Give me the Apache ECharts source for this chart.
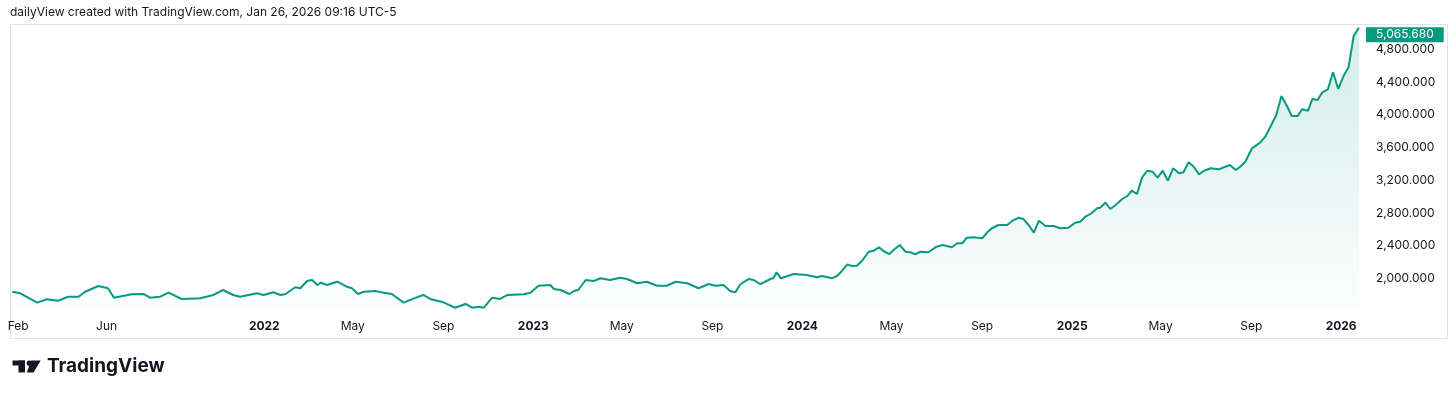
<!DOCTYPE html>
<html>
<head>
<meta charset="utf-8">
<script src="https://cdn.jsdelivr.net/npm/echarts@6/dist/echarts.min.js"></script>
<style>
html,body{margin:0;padding:0;background:#fff;}
#chart{width:1456px;height:398px;}
</style>
</head>
<body>
<div id="chart"></div>
<script>
const dates = [
'2021-01-24','2021-02-04','2021-02-27','2021-03-12','2021-03-27','2021-04-10','2021-04-24','2021-05-03','2021-05-21','2021-06-03','2021-06-11','2021-07-05','2021-07-21','2021-07-30','2021-08-13','2021-08-24','2021-09-11','2021-10-06','2021-10-24','2021-11-06','2021-11-20','2021-11-29','2021-12-22','2021-12-31',
'2022-01-13','2022-01-23','2022-01-30','2022-02-12','2022-02-19','2022-02-28','2022-03-07','2022-03-14','2022-03-19','2022-03-27','2022-04-10','2022-04-23','2022-04-30','2022-05-08','2022-05-16','2022-06-01','2022-06-12','2022-06-23','2022-07-09','2022-07-23','2022-08-05','2022-08-14','2022-09-01','2022-09-17','2022-10-01','2022-10-10','2022-10-19','2022-10-26','2022-11-06','2022-11-17','2022-11-27','2022-12-19','2022-12-28',
'2023-01-08','2023-01-24','2023-01-29','2023-02-07','2023-02-19','2023-02-25','2023-03-03','2023-03-13','2023-03-24','2023-04-02','2023-04-15','2023-04-29','2023-05-08','2023-05-22','2023-06-04','2023-06-18','2023-07-01','2023-07-13','2023-07-29','2023-08-13','2023-08-27','2023-09-05','2023-09-16','2023-09-25','2023-10-02','2023-10-09','2023-10-20','2023-10-27','2023-11-05','2023-11-16','2023-11-23','2023-11-27','2023-12-03','2023-12-20',
'2024-01-07','2024-01-21','2024-01-28','2024-02-10','2024-02-17','2024-02-24','2024-03-02','2024-03-08','2024-03-15','2024-03-22','2024-03-31','2024-04-07','2024-04-14','2024-04-20','2024-04-28','2024-05-05','2024-05-12','2024-05-20','2024-05-27','2024-06-02','2024-06-09','2024-06-20','2024-07-01','2024-07-09','2024-07-22','2024-07-29','2024-08-05','2024-08-11','2024-08-20','2024-09-01','2024-09-08','2024-09-14','2024-09-23','2024-10-05','2024-10-12','2024-10-21','2024-10-27','2024-11-03','2024-11-10','2024-11-17','2024-11-26','2024-12-07','2024-12-16','2024-12-27',
'2025-01-05','2025-01-12','2025-01-19','2025-01-26','2025-02-04','2025-02-08','2025-02-15','2025-02-22','2025-03-01','2025-03-10','2025-03-17','2025-03-23','2025-03-30','2025-04-06','2025-04-13','2025-04-20','2025-04-27','2025-05-04','2025-05-11','2025-05-18','2025-05-26','2025-06-01','2025-06-08','2025-06-15','2025-06-22','2025-06-29','2025-07-08','2025-07-19','2025-07-26','2025-08-03','2025-08-11','2025-08-17','2025-08-24','2025-09-02','2025-09-13','2025-09-20','2025-09-27','2025-10-05','2025-10-12','2025-10-20','2025-10-26','2025-11-03','2025-11-09','2025-11-17','2025-11-23','2025-11-30','2025-12-06','2025-12-14','2025-12-21','2025-12-28',
'2026-01-05','2026-01-11','2026-01-18','2026-01-25'
];

const values = [
1836000,1817000,1702000,1743000,1726000,1775000,1775000,1836000,1906000,1878000,1763000,1804000,1808000,1763000,1775000,1824000,1747000,1755000,1796000,1857000,1796000,1775000,1817000,1796000,
1829000,1796000,1808000,1890000,1878000,1967000,1979000,1918000,1946000,1918000,1958000,1897000,1878000,1808000,1836000,1845000,1824000,1808000,1702000,1755000,1796000,1747000,1706000,1640000,1686000,1640000,1653000,1640000,1763000,1747000,1796000,1804000,1824000,
1909000,1918000,1869000,1857000,1808000,1845000,1857000,1979000,1967000,2000000,1979000,2007000,1991000,1939000,1958000,1909000,1909000,1958000,1939000,1878000,1930000,1909000,1918000,1845000,1829000,1927000,1991000,1979000,1930000,1979000,2007000,2073000,2000000,2053000,
2040000,2012000,2028000,2000000,2028000,2093000,2171000,2150000,2154000,2215000,2325000,2338000,2379000,2334000,2297000,2355000,2407000,2325000,2318000,2294000,2325000,2318000,2387000,2407000,2379000,2428000,2428000,2497000,2502000,2489000,2563000,2612000,2652000,2652000,2705000,2741000,2725000,2652000,2558000,2705000,2640000,2640000,2612000,2619000,
2680000,2692000,2753000,2787000,2856000,2864000,2925000,2848000,2897000,2970000,3007000,3072000,3031000,3235000,3316000,3304000,3231000,3316000,3194000,3346000,3284000,3297000,3419000,3365000,3272000,3316000,3346000,3333000,3358000,3386000,3325000,3365000,3426000,3590000,3659000,3732000,3854000,3997000,4230000,4099000,3985000,3985000,4067000,4050000,4193000,4181000,4270000,4312000,4520000,4316000,
4487000,4581000,4964000,5065680
];

const yTickValues = [2000000,2400000,2800000,3200000,3600000,4000000,4400000,4800000];
const xTickDates = ['2021-02-01','2021-06-01','2022-01-01','2022-05-01','2022-09-01','2023-01-01','2023-05-01','2023-09-01','2024-01-01','2024-05-01','2024-09-01','2025-01-01','2025-05-01','2025-09-01','2026-01-01'];
const xRange = ['2021-01-21', '2026-02-01'];
const monthNames = ['Jan','Feb','Mar','Apr','May','Jun','Jul','Aug','Sep','Oct','Nov','Dec'];

const headerText = 'dailyView created with TradingView.com, Jan 26, 2026 09:16 UTC-5';
const lastValue = values[values.length - 1];

const ts = s => Date.UTC(+s.slice(0, 4), +s.slice(5, 7) - 1, +s.slice(8, 10));

function fmtPrice(v) {
  const s = Math.round(v).toLocaleString('en-US');
  const i = s.lastIndexOf(',');
  return i < 0 ? s : s.slice(0, i) + '.' + s.slice(i + 1);
}

const FONT = 'Inter, "Noto Sans", sans-serif';
const chart = echarts.init(document.getElementById('chart'), null, {renderer: 'canvas'});

chart.setOption({
  animation: false,
  backgroundColor: '#ffffff',
  textStyle: {fontFamily: FONT},
  grid: {left: 10, right: 92, top: 25, bottom: 90, containLabel: false},
  xAxis: {
    type: 'value',
    min: ts(xRange[0]),
    max: ts(xRange[1]),
    axisLine: {show: false},
    axisTick: {show: false},
    splitLine: {show: false},
    axisLabel: {
      customValues: xTickDates.map(ts),
      margin: 12,
      color: '#131722',
      fontSize: 12,
      fontFamily: FONT,
      formatter: function (val) {
        const d = new Date(val);
        if (d.getUTCMonth() === 0) return '{y|' + d.getUTCFullYear() + '}';
        return monthNames[d.getUTCMonth()];
      },
      rich: {y: {fontWeight: 'bold', fontSize: 12, color: '#131722', fontFamily: FONT}}
    }
  },
  yAxis: {
    type: 'value',
    position: 'right',
    min: 1636700,
    max: 5098400,
    axisLine: {show: false},
    axisTick: {show: false},
    splitLine: {show: false},
    axisLabel: {
      customValues: yTickValues,
      margin: 12,
      color: '#131722',
      fontSize: 12,
      fontFamily: FONT,
      formatter: v => fmtPrice(v)
    }
  },
  series: [{
    type: 'line',
    clip: false,
    data: dates.map((d, i) => [ts(d), values[i]]),
    showSymbol: false,
    symbol: 'none',
    lineStyle: {color: '#089981', width: 2},
    itemStyle: {color: '#089981'},
    areaStyle: {
      origin: 'start',
      color: new echarts.graphic.LinearGradient(0, 0, 0, 1, [
        {offset: 0, color: 'rgba(8,153,129,0.26)'},
        {offset: 1, color: 'rgba(8,153,129,0.02)'}
      ])
    },
    markLine: {
      silent: true,
      symbol: ['none', 'none'],
      lineStyle: {color: 'rgba(0,0,0,0)', width: 0, type: 'solid'},
      data: [{yAxis: lastValue}],
      label: {
        show: true,
        position: 'end',
        distance: 2,
        offset: [0, 7],
        formatter: p => fmtPrice(p.value),
        backgroundColor: '#089981',
        color: '#ffffff',
        fontSize: 12,
        fontFamily: FONT,
        padding: [2, 10, 1, 10]
      }
    }
  }],
  graphic: [
    {type: 'rect', silent: true, shape: {x: 10.5, y: 24.5, width: 1437, height: 314}, style: {fill: null, stroke: '#e0e3eb', lineWidth: 1}},
    {type: 'text', left: 10, top: 6, style: {text: headerText, font: '12px ' + FONT, fill: '#131722'}},
    {type: 'rect', silent: true, shape: {x: 12.5, y: 360.5, width: 12.5, height: 5}, style: {fill: '#131722'}},
    {type: 'rect', silent: true, shape: {x: 18.5, y: 360.5, width: 6.5, height: 12}, style: {fill: '#131722'}},
    {type: 'circle', silent: true, shape: {cx: 29.2, cy: 363.2, r: 2.6}, style: {fill: '#131722'}},
    {type: 'polygon', silent: true, shape: {points: [[31, 360.5], [40.7, 360.5], [33.5, 372.5], [26.8, 372.5]]}, style: {fill: '#131722'}},
    {type: 'text', left: 47, top: 357, style: {text: 'TradingView', font: 'bold 19px ' + FONT, fill: '#131722'}}
  ]
});
</script>
</body>
</html>
